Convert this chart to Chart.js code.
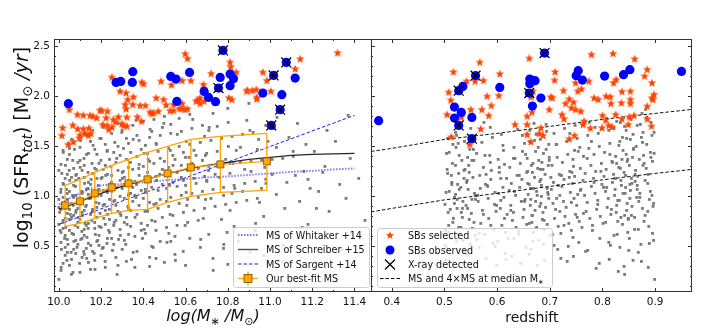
<!DOCTYPE html>
<html>
<head>
<meta charset="utf-8">
<script src="https://cdn.jsdelivr.net/npm/chart.js@4.4.1/dist/chart.umd.min.js"></script>
<style>
  html, body { margin: 0; padding: 0; background: #fff; }
  #wrap { position: relative; width: 726px; height: 329px; overflow: hidden; }
  #massChart { position: absolute; left: 0; top: 0; }
  #zChart { position: absolute; left: 371px; top: 0; }
</style>
</head>
<body>
<div id="wrap">
  <canvas id="massChart" width="372" height="329"></canvas>
  <canvas id="zChart" width="355" height="329"></canvas>
</div>
<script>
// ---- data ----
// left panel: log stellar mass vs log SFR
const leftStars = [[11.32,2.433],[11.143,2.373],[11.119,2.273],[10.811,2.34],[10.814,2.293],[10.84,2.24],[10.598,2.423],[10.609,2.377],[10.721,2.227],[10.966,2.24],[10.985,2.157],[10.251,2.19],[10.393,2.14],[10.401,2.123],[10.484,2.15],[10.533,2.113],[10.584,2.157],[10.625,2.157],[10.685,2.117],[10.688,2.073],[10.29,2.05],[10.318,2.033],[10.326,1.967],[10.353,1.993],[10.314,1.917],[10.318,1.873],[10.35,1.917],[10.385,1.907],[10.41,1.907],[10.461,1.983],[10.496,1.967],[10.543,1.857],[10.584,1.927],[10.582,1.877],[10.609,1.873],[10.657,1.96],[10.669,1.927],[10.688,1.95],[10.805,1.983],[10.819,1.967],[10.89,2.05],[10.916,2.057],[10.935,2.067],[10.893,2.06],[10.938,1.99],[10.938,1.973],[11.004,2.05],[10.116,1.81],[10.148,1.807],[10.195,1.86],[10.203,1.857],[10.23,1.85],[10.161,1.8],[10.179,1.783],[10.258,1.767],[10.282,1.793],[10.322,1.79],[10.372,1.793],[10.391,1.75],[10.432,1.84],[10.44,1.827],[10.471,1.85],[10.527,1.853],[10.298,1.723],[10.306,1.707],[10.322,1.7],[10.208,1.717],[10.23,1.707],[10.018,1.683],[10.014,1.607],[10.066,1.71],[10.089,1.673],[10.116,1.673],[10.142,1.68],[10.1,1.61],[10.124,1.627],[10.14,1.607],[10.151,1.627],[10.097,1.583],[10.069,1.543],[10.044,1.517],[10.05,1.867],[10.088,1.817],[10.224,1.783],[10.252,1.69],[10.236,1.667],[10.268,1.743],[10.508,1.913],[10.543,1.917],[10.65,1.95],[10.669,1.983],[10.448,1.833],[10.571,1.877],[10.596,1.867]];
const leftBlue = [[10.045,1.927],[10.271,2.14],[10.293,2.15],[10.35,2.247],[10.348,2.14],[10.53,2.2],[10.555,2.173],[10.619,2.24],[10.559,1.95],[10.688,2.05],[10.709,1.99],[10.742,1.947],[10.764,2.19],[10.777,2.46],[10.756,2.083],[10.811,2.223],[10.827,2.177],[10.811,2.107],[10.966,2.033],[11.017,2.21],[11.056,2.017],[11.077,2.34],[11.048,1.867],[11.006,1.71],[11.119,2.183]];
const leftXray = [[10.777,2.46],[10.756,2.083],[11.017,2.21],[11.077,2.34],[11.048,1.867],[11.006,1.71]];

const bestMass = [10.03, 10.10, 10.17, 10.25, 10.33, 10.42, 10.515, 10.625, 10.765, 10.985];
const bestSfr  = [0.91, 0.95, 1.03, 1.09, 1.13, 1.17, 1.23, 1.29, 1.32, 1.35];
const bestHi   = [1.11, 1.17, 1.24, 1.31, 1.37, 1.44, 1.50, 1.57, 1.60, 1.63];
const bestLo   = [0.70, 0.73, 0.78, 0.83, 0.86, 0.87, 0.94, 1.00, 1.04, 1.06];

const whitakerMass = [10.0, 10.05, 10.1, 10.15, 10.2, 10.3, 10.4, 10.5, 10.6, 10.7, 10.8, 10.9, 11.0, 11.1, 11.2, 11.3, 11.4];
const whitakerSfr  = [0.92, 0.98, 1.03, 1.08, 1.11, 1.125, 1.14, 1.16, 1.175, 1.19, 1.2, 1.215, 1.23, 1.245, 1.255, 1.27, 1.28];
const schreiberMass = [10.0, 10.1, 10.2, 10.3, 10.4, 10.5, 10.6, 10.7, 10.8, 10.9, 11.0, 11.1, 11.2, 11.3, 11.4];
const schreiberSfr  = [0.87, 0.95, 1.03, 1.10, 1.16, 1.22, 1.27, 1.31, 1.34, 1.37, 1.39, 1.41, 1.42, 1.425, 1.43];
const sargentMass = [10.0, 11.4];
const sargentSfr  = [0.72, 1.81];

// right panel: redshift vs log SFR
const rightStars = [[0.567,2.34],[0.517,2.243],[0.605,2.223],[0.542,2.15],[0.574,2.157],[0.558,2.15],[0.508,2.04],[0.512,1.96],[0.581,2.0],[0.603,2.007],[0.589,1.907],[0.571,1.867],[0.55,1.867],[0.505,1.817],[0.532,1.79],[0.584,1.807],[0.569,1.673],[0.513,1.593],[0.548,1.517],[0.661,2.38],[0.668,2.05],[0.664,1.993],[0.666,1.84],[0.657,1.8],[0.634,1.717],[0.657,1.717],[0.683,1.683],[0.68,1.627],[0.687,1.607],[0.657,1.617],[0.664,1.543],[0.702,1.993],[0.699,1.867],[0.705,1.983],[0.71,2.243],[0.709,2.16],[0.726,2.057],[0.73,1.927],[0.737,1.973],[0.745,1.94],[0.741,1.883],[0.749,1.867],[0.759,1.85],[0.727,1.773],[0.723,1.817],[0.765,1.75],[0.763,1.717],[0.777,1.68],[0.737,1.573],[0.747,1.607],[0.749,2.133],[0.753,2.05],[0.76,2.073],[0.774,2.15],[0.779,2.417],[0.82,2.427],[0.861,2.373],[0.821,2.133],[0.826,2.167],[0.784,1.983],[0.792,1.967],[0.807,2.0],[0.815,1.993],[0.837,2.047],[0.853,2.05],[0.816,1.927],[0.836,1.933],[0.853,1.967],[0.853,1.927],[0.825,1.817],[0.8,1.807],[0.806,1.76],[0.837,1.773],[0.851,1.793],[0.86,1.807],[0.799,1.683],[0.812,1.707],[0.818,1.693],[0.849,1.717],[0.885,1.773],[0.893,1.7],[0.885,2.267],[0.88,2.2],[0.894,2.133],[0.898,2.017],[0.896,1.967],[0.885,1.9],[0.894,1.983]];
const rightBlue = [[0.375,1.757],[0.535,2.1],[0.527,2.057],[0.559,2.207],[0.519,1.893],[0.532,1.84],[0.519,1.783],[0.552,1.79],[0.527,1.71],[0.552,1.577],[0.605,2.09],[0.662,2.173],[0.662,2.127],[0.672,2.157],[0.661,2.033],[0.683,1.983],[0.667,1.903],[0.69,2.433],[0.75,2.207],[0.754,2.257],[0.762,2.163],[0.804,2.203],[0.84,2.217],[0.852,2.267],[0.95,2.25]];
const rightXray = [[0.69,2.433],[0.559,2.207],[0.527,2.057],[0.661,2.033],[0.527,1.71],[0.552,1.577]];

const msZ     = [0.3605, 0.4, 0.5, 0.6, 0.7, 0.8, 0.9, 0.97];
const msSfr   = [0.845, 0.88, 0.965, 1.03, 1.10, 1.165, 1.23, 1.27];
const ms4Sfr  = [1.45, 1.48, 1.57, 1.63, 1.70, 1.77, 1.83, 1.87];

// background galaxy clouds (estimated by eye, sparse stand-in for the dense cloud)
const leftCloud = [
[10.01,0.87],[10.03,0.61],[10.02,1.13],[10.04,0.44],[10.00,0.97],[10.01,1.32],[10.03,0.78],[10.04,1.03],[10.02,0.33],[10.00,0.72],[10.04,1.22],[10.01,0.54],[10.03,0.93],[10.02,1.46],[10.00,0.17],[10.04,0.83],[10.01,1.07],[10.03,0.41],[10.02,0.68],[10.04,1.37],[10.00,0.89],[10.03,1.18],[10.01,0.26],[10.02,0.76],[10.04,0.57],[10.00,1.26],[10.02,0.99],[10.03,0.49],[10.01,0.64],[10.04,0.91],
[10.06,0.93],[10.08,0.56],[10.07,1.28],[10.09,0.74],[10.05,1.05],[10.06,0.37],[10.08,1.16],[10.09,0.97],[10.07,0.62],[10.05,1.42],[10.08,0.84],[10.06,0.22],[10.09,1.34],[10.07,0.47],[10.05,0.87],[10.08,1.01],[10.06,1.57],[10.09,0.69],[10.07,0.99],[10.05,0.31],[10.08,1.21],[10.06,0.79],[10.09,0.52],[10.07,1.11],[10.05,0.66],[10.08,0.43],[10.06,1.19],[10.09,0.88],[10.07,0.81],[10.05,1.48],
[10.11,0.96],[10.13,0.71],[10.12,1.19],[10.14,0.53],[10.10,1.36],[10.11,0.84],[10.13,1.07],[10.14,0.34],[10.12,0.61],[10.10,1.49],[10.13,0.91],[10.11,1.26],[10.14,1.02],[10.12,0.42],[10.10,0.77],[10.13,1.61],[10.11,0.58],[10.14,1.14],[10.12,0.86],[10.10,0.24],[10.12,1.31],[10.14,0.73],[10.11,1.03],[10.13,0.48],[10.10,0.94],[10.12,0.67],[10.14,1.43],[10.11,0.39],
[10.16,1.04],[10.18,0.79],[10.17,1.28],[10.19,0.61],[10.15,1.12],[10.16,0.45],[10.18,1.42],[10.19,0.93],[10.17,0.68],[10.15,1.55],[10.18,1.18],[10.16,0.87],[10.19,1.33],[10.17,0.36],[10.15,0.98],[10.18,0.55],[10.16,1.66],[10.19,1.07],[10.17,0.74],[10.15,0.82],[10.18,1.01],[10.16,1.23],[10.19,0.51],[10.17,1.47],[10.15,0.27],[10.18,0.89],
[10.21,1.06],[10.23,0.82],[10.22,1.31],[10.24,0.64],[10.20,1.18],[10.21,0.49],[10.23,1.46],[10.24,0.97],[10.22,0.72],[10.20,1.58],[10.23,1.22],[10.21,0.91],[10.24,1.37],[10.22,0.29],[10.20,1.01],[10.23,0.58],[10.21,1.69],[10.24,1.12],[10.22,0.86],[10.20,0.41],[10.23,1.04],[10.21,1.27],[10.24,0.77],[10.22,1.52],[10.20,0.69],
[10.26,1.09],[10.28,0.85],[10.27,1.34],[10.29,0.67],[10.25,1.21],[10.26,0.52],[10.28,1.50],[10.29,1.00],[10.27,0.76],[10.25,1.63],[10.28,1.26],[10.26,0.95],[10.29,1.41],[10.27,0.39],[10.25,1.05],[10.28,1.73],[10.26,0.71],[10.29,1.16],[10.27,0.91],[10.25,0.58],[10.28,0.31],[10.26,1.44],[10.29,0.83],
[10.31,1.12],[10.33,0.88],[10.32,1.37],[10.34,0.70],[10.30,1.24],[10.31,0.56],[10.33,1.53],[10.34,1.03],[10.32,0.79],[10.30,1.66],[10.33,1.29],[10.31,0.98],[10.34,1.44],[10.32,0.35],[10.30,1.08],[10.33,0.62],[10.31,1.19],[10.34,0.86],[10.32,1.58],[10.30,0.47],[10.33,1.01],[10.31,0.74],
[10.36,1.15],[10.38,0.91],[10.37,1.40],[10.39,0.73],[10.35,1.27],[10.36,0.60],[10.38,1.56],[10.39,1.06],[10.37,0.82],[10.35,1.71],[10.38,1.32],[10.36,1.01],[10.39,1.47],[10.37,0.45],[10.35,0.95],[10.38,1.21],[10.36,0.29],[10.39,0.66],[10.37,1.61],[10.35,1.09],
[10.41,1.18],[10.43,0.94],[10.42,1.43],[10.44,0.76],[10.40,1.30],[10.41,0.63],[10.43,1.59],[10.44,1.09],[10.42,0.85],[10.40,1.75],[10.43,1.35],[10.41,1.04],[10.44,0.50],[10.42,1.24],[10.40,0.98],[10.43,0.39],[10.41,1.51],[10.44,1.65],[10.42,0.71],
[10.46,1.20],[10.48,0.97],[10.47,1.45],[10.49,0.79],[10.45,1.33],[10.46,0.66],[10.48,1.61],[10.49,1.12],[10.47,0.88],[10.45,1.77],[10.48,1.38],[10.46,0.38],[10.49,1.27],[10.47,1.06],[10.45,0.92],[10.48,0.55],[10.46,1.53],[10.49,1.69],
[10.51,1.22],[10.53,0.99],[10.52,1.48],[10.54,0.81],[10.50,1.35],[10.51,0.69],[10.53,1.63],[10.54,1.14],[10.52,0.90],[10.50,1.80],[10.53,0.55],[10.51,1.08],[10.54,1.41],[10.52,1.29],[10.50,0.34],[10.53,1.72],[10.51,0.95],
[10.56,1.24],[10.58,1.01],[10.57,1.50],[10.59,0.84],[10.55,1.37],[10.56,0.71],[10.58,1.65],[10.59,1.16],[10.57,0.93],[10.55,0.42],[10.58,1.31],[10.56,1.10],[10.59,1.44],[10.57,1.78],[10.55,0.60],[10.58,1.19],
[10.61,1.26],[10.63,1.03],[10.62,1.52],[10.64,0.86],[10.60,1.39],[10.61,0.74],[10.63,1.68],[10.64,1.18],[10.62,0.58],[10.60,1.11],[10.63,1.33],[10.61,0.97],[10.64,1.46],[10.62,1.82],[10.60,0.31],
[10.66,1.28],[10.68,1.05],[10.67,1.54],[10.69,0.88],[10.65,1.41],[10.66,0.76],[10.68,1.71],[10.69,1.20],[10.67,0.49],[10.65,1.13],[10.68,1.36],[10.66,0.99],[10.69,1.60],
[10.71,1.30],[10.73,1.07],[10.72,1.56],[10.74,0.90],[10.70,1.43],[10.71,0.62],[10.73,1.83],[10.74,1.22],[10.72,0.98],[10.70,1.16],[10.73,0.38],[10.71,1.66],
[10.76,1.31],[10.78,1.09],[10.77,1.58],[10.79,0.92],[10.75,1.45],[10.78,0.48],[10.76,1.19],[10.79,1.37],[10.77,0.77],[10.75,1.70],[10.78,1.01],
[10.81,1.33],[10.83,1.11],[10.82,1.60],[10.84,0.94],[10.80,1.88],[10.83,0.70],[10.81,1.23],[10.84,1.46],[10.82,1.03],[10.80,0.32],
[10.86,1.34],[10.88,1.13],[10.87,1.62],[10.89,0.96],[10.85,0.55],[10.88,1.27],[10.86,1.49],[10.89,1.76],[10.87,1.05],
[10.91,1.35],[10.93,1.15],[10.92,1.64],[10.94,0.98],[10.90,1.93],[10.93,0.66],[10.91,1.25],[10.94,1.47],
[10.96,1.36],[10.98,1.17],[10.97,0.80],[10.99,1.55],[10.96,1.08],[10.98,1.71],[10.97,0.41],
[11.01,1.37],[11.03,1.02],[11.02,1.68],[11.04,0.62],[11.01,1.22],[11.03,1.49],
[11.06,1.38],[11.08,1.14],[11.07,0.88],[11.09,1.59],[11.06,0.35],
[11.11,1.40],[11.13,1.73],[11.14,0.95],[11.12,1.21],[11.16,1.25],[11.18,0.72],[11.17,1.52],[11.19,1.08],
[11.21,1.45],[11.23,1.05],[11.24,0.58],[11.26,1.30],[11.28,0.85],[11.27,1.66],[11.31,1.55],[11.33,1.12],[11.34,0.47],
[11.36,0.98],[11.38,1.38],[11.37,1.81],[11.42,1.18],[11.45,0.76],
[10.012,0.47],[10.027,0.58],[10.043,0.52],[10.058,0.44],[10.071,0.55],[10.086,0.49],[10.104,0.57],[10.118,0.45],[10.133,0.59],[10.151,0.51],[10.167,0.43],[10.184,0.56],[10.206,0.48],[10.228,0.53],[10.254,0.46],[10.283,0.57],[10.317,0.52],[10.352,0.44],[10.396,0.58],[10.447,0.49],[10.512,0.54],[10.589,0.45],[10.672,0.57],[10.781,0.52],[10.905,0.44],[11.064,0.51],
[10.006,0.66],[10.019,0.74],[10.033,0.69],[10.048,0.77],[10.062,0.63],[10.077,0.71],[10.093,0.79],[10.109,0.65],[10.124,0.73],[10.139,0.68],[10.156,0.76],[10.173,0.62],[10.191,0.7],[10.213,0.78],[10.236,0.66],[10.262,0.74],[10.291,0.61],[10.323,0.72],[10.361,0.79],[10.404,0.67],[10.456,0.75],[10.521,0.63],[10.598,0.71],[10.684,0.78],[10.797,0.64],[10.932,0.73],[11.152,0.69],
[10.004,0.84],[10.016,0.93],[10.029,0.88],[10.041,0.97],[10.054,0.82],[10.068,0.91],[10.082,0.86],[10.097,0.95],[10.112,0.81],[10.127,0.9],[10.143,0.98],[10.159,0.85],[10.176,0.94],[10.195,0.83],[10.216,0.92],[10.239,0.87],[10.265,0.96],[10.294,0.81],[10.327,0.9],[10.365,0.99],[10.408,0.85],[10.461,0.93],[10.527,0.82],[10.606,0.91],[10.695,0.97],[10.811,0.86],[10.95,0.94],[11.22,0.88],
[10.009,1.04],[10.022,1.12],[10.036,1.07],[10.051,1.16],[10.065,1.01],[10.079,1.1],[10.094,1.18],[10.108,1.05],[10.122,1.13],[10.137,1.08],[10.153,1.17],[10.169,1.02],[10.187,1.11],[10.205,1.19],[10.226,1.06],[10.249,1.14],[10.274,1.09],[10.301,1.18],[10.332,1.03],[10.368,1.12],[10.41,1.07],[10.462,1.16],[10.524,1.11],[10.603,1.04],[10.701,1.15],[10.833,1.08],[10.981,1.13],[11.18,1.17],
[10.014,1.23],[10.031,1.31],[10.049,1.26],[10.066,1.36],[10.083,1.22],[10.101,1.29],[10.119,1.38],[10.138,1.24],[10.157,1.33],[10.177,1.27],[10.199,1.36],[10.222,1.21],[10.247,1.3],[10.274,1.38],[10.305,1.25],[10.339,1.34],[10.378,1.28],[10.423,1.37],[10.477,1.22],[10.541,1.31],[10.617,1.39],[10.709,1.26],[10.826,1.33],[10.975,1.29],[11.25,1.24],
[10.021,1.44],[10.047,1.53],[10.074,1.47],[10.102,1.56],[10.131,1.42],[10.162,1.51],[10.194,1.58],[10.228,1.45],[10.265,1.54],[10.306,1.48],[10.352,1.57],[10.404,1.43],[10.462,1.52],[10.528,1.46],[10.604,1.55],[10.694,1.41],[10.803,1.5],[10.946,1.57],[11.11,1.45],
[10.118,1.63],[10.214,1.71],[10.298,1.64],[10.366,1.76],[10.432,1.67],[10.497,1.73],[10.561,1.62],[10.634,1.77],[10.712,1.69],[10.802,1.74],[10.905,1.66],[11.033,1.79],
[10.011,0.29],[10.038,0.36],[10.067,0.24],[10.098,0.33],[10.132,0.38],[10.171,0.27],[10.219,0.35],[10.276,0.22],[10.344,0.37],[10.43,0.3],[10.552,0.36],[10.731,0.26],[10.99,0.33]
];
const rightCloud = [
[0.501,0.92],[0.507,0.64],[0.513,1.21],[0.504,1.43],[0.517,0.78],[0.509,1.05],[0.502,0.51],[0.515,1.33],[0.511,0.87],[0.506,1.58],[0.519,0.99],[0.503,0.36],[0.514,1.14],[0.508,0.71],[0.516,1.52],[0.505,1.27],[0.512,0.58],[0.518,1.81],
[0.521,1.02],[0.527,0.69],[0.533,1.36],[0.524,0.88],[0.537,1.18],[0.529,0.47],[0.522,1.49],[0.535,0.95],[0.531,1.09],[0.526,0.62],[0.539,1.27],[0.523,1.61],[0.534,0.79],[0.528,1.41],[0.536,0.33],[0.525,1.12],[0.532,0.84],[0.538,1.55],[0.524,0.97],[0.530,1.72],[0.535,0.56],[0.527,1.23],
[0.541,0.91],[0.547,1.24],[0.553,0.68],[0.544,1.39],[0.557,1.03],[0.549,0.52],[0.542,1.14],[0.555,1.47],[0.551,0.83],[0.546,1.31],[0.559,0.97],[0.543,0.41],[0.554,1.19],[0.548,1.58],[0.556,0.74],[0.545,1.07],[0.552,1.36],[0.558,0.61],[0.550,1.68],[0.544,0.88],
[0.563,1.01],[0.569,0.73],[0.574,1.29],[0.566,0.49],[0.578,1.12],[0.561,1.43],[0.572,0.86],[0.567,1.21],[0.576,0.62],[0.564,0.95],[0.571,1.54],[0.579,0.38],[0.568,1.08],[0.575,1.74],
[0.583,0.98],[0.589,1.26],[0.594,0.67],[0.586,1.41],[0.598,0.85],[0.581,1.11],[0.592,0.53],[0.587,1.34],[0.596,1.04],[0.584,0.78],[0.591,1.59],[0.599,0.31],[0.588,1.17],[0.595,0.92],
[0.603,1.03],[0.609,0.71],[0.614,1.32],[0.606,0.88],[0.618,1.18],[0.601,0.55],[0.612,1.46],[0.607,0.96],[0.616,0.64],[0.604,1.24],[0.611,1.09],[0.619,0.82],[0.608,1.62],[0.615,0.43],[0.602,1.37],[0.613,0.99],
[0.623,1.06],[0.629,0.76],[0.634,1.38],[0.626,0.91],[0.638,1.21],[0.621,0.58],[0.632,1.49],[0.627,1.13],[0.636,0.69],[0.624,1.29],[0.631,0.84],[0.639,1.67],[0.628,0.40],[0.635,1.01],
[0.643,1.09],[0.649,0.79],[0.654,1.42],[0.646,0.95],[0.658,1.25],[0.641,0.62],[0.652,1.53],[0.647,1.17],[0.656,0.72],[0.644,1.33],[0.651,0.87],[0.659,1.02],[0.648,1.61],[0.655,0.49],[0.642,1.21],[0.653,0.97],[0.657,1.38],[0.645,0.33],
[0.661,1.12],[0.667,0.81],[0.673,1.45],[0.664,0.97],[0.677,1.28],[0.669,0.64],[0.662,1.55],[0.675,1.05],[0.671,1.19],[0.666,0.74],[0.679,1.36],[0.663,0.91],[0.674,1.62],[0.668,0.55],[0.676,1.01],[0.665,1.31],[0.672,0.86],[0.678,1.49],[0.664,1.08],[0.670,1.73],[0.675,0.69],[0.667,1.24],[0.661,0.42],[0.673,0.95],
[0.681,1.15],[0.687,0.84],[0.693,1.47],[0.684,1.00],[0.697,1.31],[0.689,0.67],[0.682,1.57],[0.695,1.08],[0.691,1.22],[0.686,0.77],[0.699,1.39],[0.683,0.93],[0.694,1.65],[0.688,0.52],[0.696,1.04],[0.685,1.34],[0.692,0.89],[0.698,1.52],[0.684,1.11],[0.690,0.36],[0.695,0.72],[0.687,1.27],
[0.703,1.07],[0.709,0.78],[0.714,1.39],[0.706,0.93],[0.718,1.22],[0.701,0.61],[0.712,1.52],[0.707,1.14],[0.716,0.70],[0.704,1.31],[0.711,0.87],[0.719,1.01],[0.708,1.63],[0.715,0.47],[0.702,1.19],[0.713,0.98],
[0.723,1.10],[0.729,0.80],[0.734,1.42],[0.726,0.95],[0.738,1.25],[0.721,0.63],[0.732,1.55],[0.727,1.17],[0.736,0.73],[0.724,1.34],[0.731,0.89],[0.739,1.04],[0.728,1.68],[0.735,0.50],[0.722,1.21],[0.733,0.35],
[0.743,1.13],[0.749,0.82],[0.754,1.45],[0.746,0.98],[0.758,1.28],[0.741,0.66],[0.752,1.58],[0.747,1.20],[0.756,0.75],[0.744,1.37],[0.751,0.91],[0.759,1.07],[0.748,1.71],[0.755,0.54],[0.742,1.24],[0.753,1.02],[0.757,1.49],[0.745,0.40],
[0.763,1.16],[0.769,0.85],[0.774,1.48],[0.766,1.01],[0.778,1.31],[0.761,0.69],[0.772,1.61],[0.767,1.23],[0.776,0.78],[0.764,1.40],[0.771,0.94],[0.779,1.10],[0.768,0.45],[0.775,1.74],
[0.783,1.18],[0.789,0.87],[0.794,1.50],[0.786,1.03],[0.798,1.33],[0.781,0.71],[0.792,1.63],[0.787,1.25],[0.796,0.80],[0.784,1.42],[0.791,0.96],[0.799,1.12],[0.788,0.28],[0.795,0.58],
[0.803,1.20],[0.809,0.89],[0.814,1.53],[0.806,1.05],[0.818,1.35],[0.801,0.73],[0.812,1.66],[0.807,1.27],[0.816,0.82],[0.804,1.44],[0.811,0.98],[0.819,1.14],[0.808,1.78],[0.815,0.51],[0.802,1.09],[0.813,0.37],
[0.821,1.22],[0.827,0.91],[0.833,1.55],[0.824,1.07],[0.837,1.37],[0.829,0.75],[0.822,1.68],[0.835,1.16],[0.831,1.29],[0.826,0.84],[0.839,1.46],[0.823,1.01],[0.834,1.74],[0.828,0.62],[0.836,1.11],[0.825,1.40],[0.832,0.96],[0.838,1.59],[0.824,1.18],[0.830,0.25],[0.835,0.79],[0.827,1.33],
[0.841,1.24],[0.847,0.93],[0.853,1.57],[0.844,1.09],[0.857,1.39],[0.849,0.77],[0.842,1.70],[0.855,1.18],[0.851,1.31],[0.846,0.86],[0.859,1.48],[0.843,1.03],[0.854,1.77],[0.848,0.64],[0.856,1.13],[0.845,1.42],[0.852,0.98],[0.858,1.62],[0.844,1.21],[0.850,0.46],[0.855,0.81],[0.847,1.35],[0.853,1.06],[0.841,0.30],
[0.863,1.26],[0.869,0.95],[0.874,1.59],[0.866,1.11],[0.878,1.41],[0.861,0.79],[0.872,1.72],[0.867,1.20],[0.876,0.88],[0.864,1.50],[0.871,1.03],[0.879,1.33],[0.868,0.67],[0.875,1.83],[0.862,1.15],[0.873,0.52],[0.877,1.64],[0.865,0.99],[0.870,1.37],[0.874,0.35],
[0.883,1.28],[0.889,0.97],[0.894,1.61],[0.886,1.13],[0.898,1.43],[0.881,0.81],[0.892,1.74],[0.887,1.22],[0.896,0.90],[0.884,1.52],[0.891,1.05],[0.899,0.17],[0.888,0.70],[0.895,1.35],[0.882,1.87],[0.897,0.56],
[0.504,0.48],[0.523,0.55],[0.538,0.45],[0.561,0.57],[0.596,0.5],[0.632,0.58],[0.664,0.47],[0.679,0.56],[0.708,0.51],[0.744,0.59],[0.772,0.46],[0.812,0.54],[0.833,0.49],[0.851,0.58],[0.868,0.44],[0.889,0.53],
[0.502,0.66],[0.516,0.74],[0.531,0.69],[0.547,0.77],[0.566,0.63],[0.588,0.71],[0.614,0.78],[0.641,0.65],[0.661,0.73],[0.674,0.68],[0.689,0.76],[0.705,0.62],[0.727,0.71],[0.752,0.79],[0.781,0.66],[0.806,0.74],[0.822,0.61],[0.838,0.72],[0.849,0.78],[0.861,0.67],[0.879,0.75],[0.895,0.63],
[0.507,0.84],[0.519,0.93],[0.534,0.88],[0.552,0.97],[0.574,0.82],[0.599,0.91],[0.626,0.86],[0.652,0.95],[0.666,0.81],[0.681,0.9],[0.698,0.98],[0.719,0.85],[0.741,0.94],[0.764,0.83],[0.791,0.92],[0.817,0.87],[0.829,0.96],[0.842,0.81],[0.856,0.9],[0.871,0.99],[0.886,0.85],[0.897,0.93],
[0.503,1.04],[0.514,1.12],[0.528,1.07],[0.543,1.16],[0.559,1.01],[0.582,1.1],[0.607,1.18],[0.633,1.05],[0.658,1.13],[0.669,1.08],[0.683,1.17],[0.697,1.02],[0.716,1.11],[0.737,1.19],[0.758,1.06],[0.784,1.14],[0.808,1.09],[0.824,1.18],[0.839,1.03],[0.852,1.12],[0.866,1.07],[0.881,1.16],[0.894,1.01],
[0.506,1.23],[0.521,1.31],[0.537,1.26],[0.556,1.36],[0.579,1.22],[0.604,1.29],[0.631,1.38],[0.656,1.24],[0.668,1.33],[0.682,1.27],[0.699,1.36],[0.721,1.21],[0.745,1.3],[0.771,1.38],[0.797,1.25],[0.819,1.34],[0.834,1.28],[0.848,1.37],[0.862,1.22],[0.877,1.31],[0.892,1.39],
[0.509,1.44],[0.526,1.53],[0.548,1.47],[0.577,1.41],[0.611,1.51],[0.648,1.45],[0.671,1.56],[0.688,1.43],[0.713,1.52],[0.747,1.46],[0.779,1.55],[0.814,1.42],[0.831,1.51],[0.846,1.58],[0.859,1.47],[0.876,1.54],[0.891,1.44],
[0.521,1.64],[0.587,1.69],[0.662,1.66],[0.693,1.72],[0.738,1.63],[0.786,1.69],[0.827,1.75],[0.845,1.66],[0.866,1.71],[0.884,1.79],[0.898,1.64],
[0.512,0.35],[0.549,0.28],[0.617,0.37],[0.676,0.31],[0.721,0.38],[0.794,0.33],[0.842,0.22],[0.858,0.36],[0.887,0.29]
];

// ---- helpers ----
const FONT = '"DejaVu Sans", sans-serif';
const STAR_COLOR = '#ff4500';
const toPts = (arr) => arr.map(p => ({ x: p[0], y: p[1] }));
const zipPts = (xs, ys) => xs.map((x, i) => ({ x: x, y: ys[i] }));

function drawStar(g, cx, cy, r, color) {
  g.beginPath();
  for (let i = 0; i < 10; i++) {
    const rr = i % 2 ? r * 0.42 : r;
    const a = -Math.PI / 2 + i * Math.PI / 5;
    g.lineTo(cx + rr * Math.cos(a), cy + rr * Math.sin(a));
  }
  g.closePath();
  g.fillStyle = color;
  g.fill();
}

function starImage(r) {
  const c = document.createElement('canvas');
  const s = Math.ceil(r * 2 + 2);
  c.width = s; c.height = s;
  drawStar(c.getContext('2d'), s / 2, s / 2, r, STAR_COLOR);
  return c;
}
const starImg = starImage(4.6);

// text with sub-scripts / italics: parts = [[text, kind]], kind has 'i' and/or 's'
function drawRich(ctx, parts, x, y, size, align, rotate) {
  const fontFor = k => (k.includes('i') ? 'italic ' : '') + (k.includes('s') ? size * 0.7 : size) + 'px ' + FONT;
  let w = 0;
  parts.forEach(([t, k]) => { ctx.font = fontFor(k); w += ctx.measureText(t).width; });
  ctx.save();
  ctx.translate(x, y);
  if (rotate) ctx.rotate(-Math.PI / 2);
  let cx = align === 'left' ? 0 : -w / 2;
  ctx.textAlign = 'left';
  ctx.textBaseline = 'alphabetic';
  ctx.fillStyle = '#111';
  parts.forEach(([t, k]) => {
    ctx.font = fontFor(k);
    ctx.fillText(t, cx, k.includes('s') ? size * 0.22 : 0);
    cx += ctx.measureText(t).width;
  });
  ctx.restore();
}

function line(ctx, x1, y1, x2, y2) {
  ctx.beginPath(); ctx.moveTo(x1, y1); ctx.lineTo(x2, y2); ctx.stroke();
}

// frame, inward ticks, legend and axis titles, drawn after the datasets
function makeOverlay(conf) {
  return {
    id: 'overlay',
    afterDraw(chart) {
      const ctx = chart.ctx, a = chart.chartArea;
      const xs = chart.scales.x, ys = chart.scales.y;
      ctx.save();
      ctx.strokeStyle = '#333';
      ctx.lineWidth = 1;
      ctx.strokeRect(a.left + 0.5, a.top + 0.5, a.right - a.left - 1, a.bottom - a.top - 1);

      const vals = (s, step) => {
        const out = [];
        for (let k = Math.ceil(s.min / step - 1e-6); k * step <= s.max + 1e-9; k++) out.push(k * step);
        return out;
      };
      const isMajor = (v, step) => Math.abs(v / step - Math.round(v / step)) < 1e-6;

      vals(xs, conf.xMinor).forEach(v => {
        const px = Math.round(xs.getPixelForValue(v)) + 0.5;
        const len = isMajor(v, conf.xMajor) ? 4 : 2;
        line(ctx, px, a.bottom, px, a.bottom - len);
        line(ctx, px, a.top, px, a.top + len);
      });
      vals(ys, conf.yMinor).forEach(v => {
        const py = Math.round(ys.getPixelForValue(v)) + 0.5;
        const len = isMajor(v, conf.yMajor) ? 4 : 2;
        line(ctx, a.left, py, a.left + len, py);
        if (conf.rightTicks) line(ctx, a.right, py, a.right - len, py);
      });

      // legend box
      const L = conf.legend;
      ctx.fillStyle = 'rgba(255,255,255,0.8)';
      ctx.strokeStyle = '#cccccc';
      ctx.beginPath();
      ctx.roundRect(L.box[0] + 0.5, L.box[1] + 0.5, L.box[2], L.box[3], 3);
      ctx.fill();
      ctx.stroke();
      L.items.forEach((it, i) => {
        const y = L.rows[i];
        const hx0 = L.hx0, hx1 = L.hx1, hc = (hx0 + hx1) / 2;
        ctx.save();
        ctx.setLineDash([]);
        if (it.kind === 'whitaker') {
          ctx.strokeStyle = 'rgba(70,70,255,0.75)'; ctx.lineWidth = 2; ctx.setLineDash([1.5, 1.5]);
          line(ctx, hx0, y, hx1, y);
        } else if (it.kind === 'schreiber') {
          ctx.strokeStyle = 'rgba(0,0,0,0.7)'; ctx.lineWidth = 1.4;
          line(ctx, hx0, y, hx1, y);
        } else if (it.kind === 'sargent') {
          ctx.strokeStyle = '#1a1aff'; ctx.lineWidth = 1; ctx.setLineDash([3.5, 2]);
          line(ctx, hx0, y, hx1, y);
        } else if (it.kind === 'best') {
          ctx.strokeStyle = '#ffa500'; ctx.lineWidth = 1.4;
          line(ctx, hx0, y, hx1, y);
          line(ctx, hc, y - 7, hc, y + 7);
          ctx.fillStyle = '#ffa500'; ctx.strokeStyle = '#7a4a00'; ctx.lineWidth = 0.8;
          ctx.fillRect(hc - 4, y - 4, 8, 8); ctx.strokeRect(hc - 4, y - 4, 8, 8);
        } else if (it.kind === 'star') {
          drawStar(ctx, hc, y, 4.2, STAR_COLOR);
        } else if (it.kind === 'circle') {
          ctx.fillStyle = '#0000ff'; ctx.beginPath(); ctx.arc(hc, y, 4.5, 0, Math.PI * 2); ctx.fill();
        } else if (it.kind === 'cross') {
          ctx.strokeStyle = '#000'; ctx.lineWidth = 1.3;
          line(ctx, hc - 5, y - 5, hc + 5, y + 5); line(ctx, hc - 5, y + 5, hc + 5, y - 5);
        } else if (it.kind === 'dash') {
          ctx.strokeStyle = '#000'; ctx.lineWidth = 1; ctx.setLineDash([3.5, 2]);
          line(ctx, hx0, y, hx1, y);
        }
        ctx.restore();
        drawRich(ctx, it.text, L.tx, y + 3.6, 9.6, 'left', false);
      });

      conf.titles.forEach(t => drawRich(ctx, t.parts, t.x, t.y, t.size, 'center', t.rotate));
      ctx.restore();
    }
  };
}

const tickFont = { family: FONT, size: 10.5 };
const fmt1 = v => Number(v).toFixed(1);
const cloudStyle = { pointStyle: 'rect', pointRadius: 2.0, backgroundColor: '#7a7a7a', borderWidth: 0 };

// ---- left panel ----
const errBars = [];
bestMass.forEach((m, i) => { errBars.push({ x: m, y: bestLo[i] }, { x: m, y: bestHi[i] }, { x: m, y: null }); });

new Chart(document.getElementById('massChart'), {
  type: 'scatter',
  data: {
    datasets: [
      { data: toPts(leftXray), pointStyle: 'crossRot', pointRadius: 7, borderColor: '#000', borderWidth: 1.3, backgroundColor: 'rgba(0,0,0,0)' },
      { data: toPts(leftBlue), pointStyle: 'circle', pointRadius: 4.6, backgroundColor: '#0000ff', borderWidth: 0 },
      { data: toPts(leftStars), pointStyle: starImg },
      { data: zipPts(bestMass, bestSfr), showLine: true, borderColor: '#ffa500', borderWidth: 1.4, pointStyle: 'rect', pointRadius: 5, backgroundColor: '#ffa500', pointBorderColor: '#7a4a00', pointBorderWidth: 0.8 },
      { data: errBars, showLine: true, spanGaps: false, borderColor: '#ffa500', borderWidth: 1.3, pointRadius: 0 },
      { data: zipPts(bestMass, bestHi), showLine: true, borderColor: '#ffa500', borderWidth: 1.3, pointRadius: 0 },
      { data: zipPts(bestMass, bestLo), showLine: true, borderColor: '#ffa500', borderWidth: 1.3, pointRadius: 0 },
      { data: zipPts(schreiberMass, schreiberSfr), showLine: true, borderColor: 'rgba(0,0,0,0.85)', borderWidth: 1.2, pointRadius: 0 },
      { data: zipPts(whitakerMass, whitakerSfr), showLine: true, borderColor: 'rgba(70,70,255,0.7)', borderWidth: 2, borderDash: [1.5, 1.5], pointRadius: 0 },
      { data: zipPts(sargentMass, sargentSfr), showLine: true, borderColor: '#1a1aff', borderWidth: 1, borderDash: [3.5, 2], pointRadius: 0 },
      Object.assign({ data: toPts(leftCloud) }, cloudStyle)
    ]
  },
  options: {
    responsive: false,
    animation: false,
    events: [],
    layout: { autoPadding: false, padding: { left: 0, right: 0, top: 39, bottom: 0 } },
    plugins: { legend: { display: false }, tooltip: { enabled: false } },
    scales: {
      x: {
        type: 'linear', min: 9.977, max: 11.483,
        afterFit: s => { s.height = 37; },
        grid: { display: false, drawTicks: false }, border: { display: false },
        ticks: { stepSize: 0.2, includeBounds: false, padding: 4, color: '#111', font: tickFont, callback: fmt1, maxRotation: 0, autoSkip: false }
      },
      y: {
        type: 'linear', min: 0.044, max: 2.574,
        afterFit: s => { s.width = 54; },
        grid: { display: false, drawTicks: false }, border: { display: false },
        ticks: { stepSize: 0.5, includeBounds: false, padding: 4, color: '#111', font: tickFont, callback: fmt1 }
      }
    }
  },
  plugins: [makeOverlay({
    xMajor: 0.2, xMinor: 0.1, yMajor: 0.5, yMinor: 0.1, rightTicks: false,
    legend: {
      box: [233, 227, 136, 60], rows: [235, 249.5, 264, 278.5], hx0: 238, hx1: 258, tx: 266,
      items: [
        { kind: 'whitaker', text: [['MS of Whitaker +14', '']] },
        { kind: 'schreiber', text: [['MS of Schreiber +15', '']] },
        { kind: 'sargent', text: [['MS of Sargent +14', '']] },
        { kind: 'best', text: [['Our best-fit MS', '']] }
      ]
    },
    titles: [
      { parts: [['log', ''], ['10', 's'], [' (SFR', ''], ['tot', 'is'], [') [M', ''], ['\u2299', 's'], [' /', 'i'], ['yr', 'i'], [']', '']], x: 27.5, y: 147.5, size: 19, rotate: true },
      { parts: [['log(M', 'i'], ['\u2217', 's'], [' /M', 'i'], ['\u2299', 's'], [')', 'i']], x: 213, y: 321, size: 16, rotate: false }
    ]
  })]
});

// ---- right panel ----
new Chart(document.getElementById('zChart'), {
  type: 'scatter',
  data: {
    datasets: [
      { data: toPts(rightXray), pointStyle: 'crossRot', pointRadius: 7, borderColor: '#000', borderWidth: 1.3, backgroundColor: 'rgba(0,0,0,0)' },
      { data: toPts(rightBlue), pointStyle: 'circle', pointRadius: 4.6, backgroundColor: '#0000ff', borderWidth: 0 },
      { data: toPts(rightStars), pointStyle: starImg },
      { data: zipPts(msZ, ms4Sfr), showLine: true, borderColor: '#111', borderWidth: 1, borderDash: [3.5, 2], pointRadius: 0 },
      { data: zipPts(msZ, msSfr), showLine: true, borderColor: '#111', borderWidth: 1, borderDash: [3.5, 2], pointRadius: 0 },
      Object.assign({ data: toPts(rightCloud) }, cloudStyle)
    ]
  },
  options: {
    responsive: false,
    animation: false,
    events: [],
    layout: { autoPadding: false, padding: { left: 0, right: 34, top: 39, bottom: 0 } },
    plugins: { legend: { display: false }, tooltip: { enabled: false } },
    scales: {
      x: {
        type: 'linear', min: 0.3605, max: 0.97,
        afterFit: s => { s.height = 37; },
        grid: { display: false, drawTicks: false }, border: { display: false },
        ticks: { stepSize: 0.1, includeBounds: false, padding: 4, color: '#111', font: tickFont, callback: fmt1, maxRotation: 0, autoSkip: false }
      },
      y: { type: 'linear', min: 0.044, max: 2.574, display: false }
    }
  },
  plugins: [makeOverlay({
    xMajor: 0.1, xMinor: 0.1, yMajor: 0.5, yMinor: 0.1, rightTicks: true,
    legend: {
      box: [6, 228, 175, 59], rows: [235.5, 250, 264.5, 278.5], hx0: 9, hx1: 29, tx: 37,
      items: [
        { kind: 'star', text: [['SBs selected', '']] },
        { kind: 'circle', text: [['SBs observed', '']] },
        { kind: 'cross', text: [['X-ray detected', '']] },
        { kind: 'dash', text: [['MS and 4\u00d7MS at median M', ''], ['\u2217', 's']] }
      ]
    },
    titles: [
      { parts: [['redshift', '']], x: 160.8, y: 322, size: 14, rotate: false }
    ]
  })]
});
</script>
</body>
</html>
